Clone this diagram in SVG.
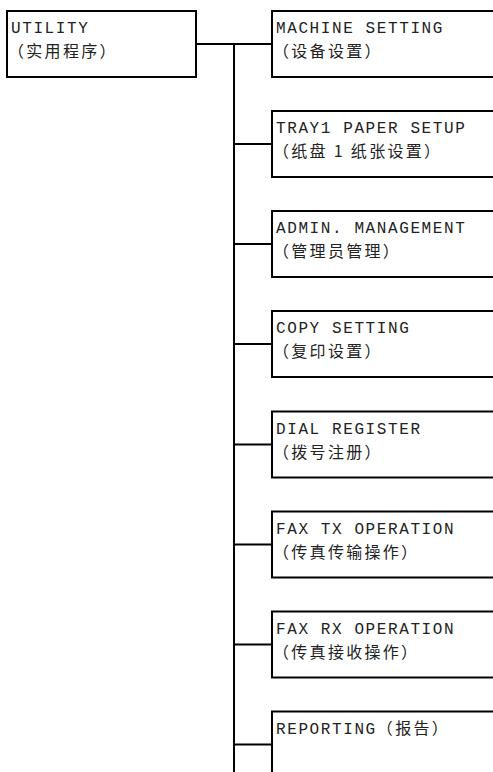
<svg xmlns="http://www.w3.org/2000/svg" width="493" height="772" viewBox="0 0 493 772">
<style>
.box{fill:#fff;stroke:#000;stroke-width:2}
.ln{fill:none;stroke:#000;stroke-width:2}
.en{font-family:"Liberation Mono",monospace;font-size:16px;letter-spacing:1.6px;fill:#222}
.zh{font-family:"Noto Sans CJK SC",sans-serif;font-size:16px;letter-spacing:2.3px;fill:#222}
</style>
<rect width="493" height="772" fill="#fff"/>
<g id="connectors">
<line class="ln" x1="234" y1="44" x2="234" y2="772"/>
<line class="ln" x1="196" y1="44" x2="272" y2="44"/>
<line class="ln" x1="234" y1="144" x2="272" y2="144"/>
<line class="ln" x1="234" y1="244" x2="272" y2="244"/>
<line class="ln" x1="234" y1="344" x2="272" y2="344"/>
<line class="ln" x1="234" y1="444.5" x2="272" y2="444.5"/>
<line class="ln" x1="234" y1="544.5" x2="272" y2="544.5"/>
<line class="ln" x1="234" y1="644.5" x2="272" y2="644.5"/>
<line class="ln" x1="234" y1="744.5" x2="272" y2="744.5"/>
</g>
<g id="utility">
<rect class="box" x="7" y="11" width="189" height="66"/>
<text class="en" x="11" y="33">UTILITY</text>
<text class="zh" x="8" y="57">（实用程序）</text>
</g>
<g id="machine">
<rect class="box" x="272" y="11" width="240" height="66"/>
<text class="en" x="276" y="33">MACHINE SETTING</text>
<text class="zh" x="273" y="57">（设备设置）</text>
</g>
<g id="tray1">
<rect class="box" x="272" y="111" width="240" height="66"/>
<text class="en" x="276" y="133">TRAY1 PAPER SETUP</text>
<text class="zh" x="273" y="157">（纸盘 1 纸张设置）</text>
</g>
<g id="admin">
<rect class="box" x="272" y="211" width="240" height="66"/>
<text class="en" x="276" y="233">ADMIN. MANAGEMENT</text>
<text class="zh" x="273" y="257">（管理员管理）</text>
</g>
<g id="copy">
<rect class="box" x="272" y="311" width="240" height="66"/>
<text class="en" x="276" y="333">COPY SETTING</text>
<text class="zh" x="273" y="357">（复印设置）</text>
</g>
<g id="dial">
<rect class="box" x="272" y="411.5" width="240" height="66"/>
<text class="en" x="276" y="433.5">DIAL REGISTER</text>
<text class="zh" x="273" y="457.5">（拨号注册）</text>
</g>
<g id="faxtx">
<rect class="box" x="272" y="511.5" width="240" height="66"/>
<text class="en" x="276" y="533.5">FAX TX OPERATION</text>
<text class="zh" x="273" y="557.5">（传真传输操作）</text>
</g>
<g id="faxrx">
<rect class="box" x="272" y="611.5" width="240" height="66"/>
<text class="en" x="276" y="633.5">FAX RX OPERATION</text>
<text class="zh" x="273" y="657.5">（传真接收操作）</text>
</g>
<g id="reporting">
<rect class="box" x="272" y="711.5" width="240" height="80"/>
<text x="276" y="733.5"><tspan class="en">REPORTING</tspan><tspan class="zh">（报告）</tspan></text>
</g>
</svg>
